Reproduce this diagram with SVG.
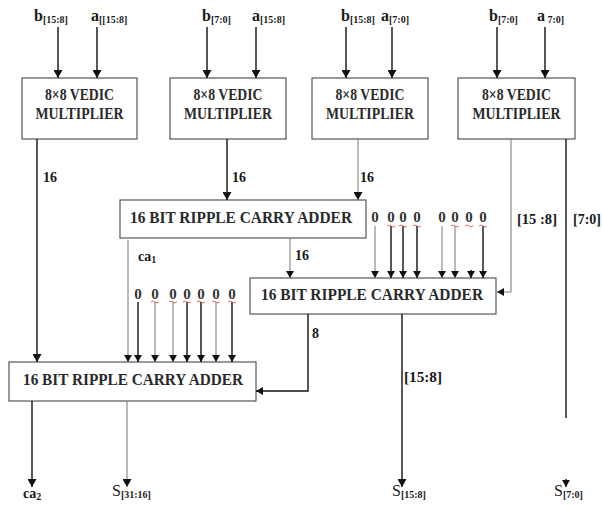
<svg xmlns="http://www.w3.org/2000/svg" width="602" height="508" viewBox="0 0 602 508">
<defs>
<marker id="ah" viewBox="0 0 8 9" refX="8" refY="4.5" markerWidth="8" markerHeight="9" markerUnits="userSpaceOnUse" orient="auto">
<path d="M0,0 L8,4.5 L0,9 z" fill="#111"/>
</marker>
<marker id="ahs" viewBox="0 0 8 9" refX="8" refY="4.5" markerWidth="7" markerHeight="8" markerUnits="userSpaceOnUse" orient="auto">
<path d="M0,0 L8,4.5 L0,9 z" fill="#111"/>
</marker>
</defs>
<style>
.box{fill:#fff;stroke:#555;stroke-width:1.2}
.bt{font-family:"Liberation Serif",serif;font-weight:bold;font-size:16px;fill:#2a2a2a;text-anchor:middle}
.lb{font-family:"Liberation Serif",serif;font-weight:bold;font-size:14px;fill:#1a1a1a}
.top{font-size:16px}
.sub{font-size:10px}
.z{font-family:"Liberation Serif",serif;font-weight:bold;font-size:15px;fill:#333;text-anchor:middle}
.k{stroke:#111;stroke-width:1.4;fill:none}
.g{stroke:#777;stroke-width:1;fill:none}
.sq{stroke:#d04040;stroke-width:0.8;fill:none}
.sl{font-family:"Liberation Serif",serif;font-size:16px;fill:#1a1a1a}
</style>
<rect width="602" height="508" fill="#fff"/>

<g id="mult1">
<rect class="box" x="22" y="78" width="115" height="61"/>
<text class="bt" x="79.5" y="100" textLength="69" lengthAdjust="spacingAndGlyphs">8×8 VEDIC</text>
<text class="bt" x="79.5" y="119" textLength="88" lengthAdjust="spacingAndGlyphs">MULTIPLIER</text>
</g>
<g id="mult2">
<rect class="box" x="170" y="78" width="116" height="61"/>
<text class="bt" x="228" y="100" textLength="69" lengthAdjust="spacingAndGlyphs">8×8 VEDIC</text>
<text class="bt" x="228" y="119" textLength="88" lengthAdjust="spacingAndGlyphs">MULTIPLIER</text>
</g>
<g id="mult3">
<rect class="box" x="312" y="78" width="116" height="61"/>
<text class="bt" x="370" y="100" textLength="69" lengthAdjust="spacingAndGlyphs">8×8 VEDIC</text>
<text class="bt" x="370" y="119" textLength="88" lengthAdjust="spacingAndGlyphs">MULTIPLIER</text>
</g>
<g id="mult4">
<rect class="box" x="458" y="78" width="117" height="61"/>
<text class="bt" x="516.5" y="100" textLength="69" lengthAdjust="spacingAndGlyphs">8×8 VEDIC</text>
<text class="bt" x="516.5" y="119" textLength="88" lengthAdjust="spacingAndGlyphs">MULTIPLIER</text>
</g>

<g id="adder1">
<rect class="box" x="120" y="200" width="246" height="38"/>
<text class="bt" x="241" y="223" textLength="222" lengthAdjust="spacingAndGlyphs">16 BIT RIPPLE CARRY ADDER</text>
</g>
<g id="adder2">
<rect class="box" x="250" y="278" width="246" height="36"/>
<text class="bt" x="372" y="300" textLength="222" lengthAdjust="spacingAndGlyphs">16 BIT RIPPLE CARRY ADDER</text>
</g>
<g id="adder3">
<rect class="box" x="9" y="362" width="247" height="39"/>
<text class="bt" x="133" y="385" textLength="220" lengthAdjust="spacingAndGlyphs">16 BIT RIPPLE CARRY ADDER</text>
</g>

<g id="connectors">
<path class="k" d="M58,27 V78" marker-end="url(#ah)"/>
<path class="k" d="M97,27 V78" marker-end="url(#ah)"/>
<path class="k" d="M207,27 V78" marker-end="url(#ah)"/>
<path class="k" d="M256,27 V78" marker-end="url(#ah)"/>
<path class="k" d="M346,27 V78" marker-end="url(#ah)"/>
<path class="k" d="M392,27 V78" marker-end="url(#ah)"/>
<path class="k" d="M497,27 V78" marker-end="url(#ah)"/>
<path class="k" d="M545,27 V78" marker-end="url(#ah)"/>

<path class="k" d="M37,139 V362" marker-end="url(#ah)"/>
<path class="k" d="M227,139 V200" marker-end="url(#ah)"/>
<path class="g" d="M358,139 V200" marker-end="url(#ah)"/>
<path class="g" d="M511,139 V292 H497" marker-end="url(#ahs)"/>
<path class="k" d="M566,139 V418"/>
<path class="k" d="M566,479 V487" marker-end="url(#ahs)"/>

<path class="g" d="M128,240 V362" marker-end="url(#ahs)"/>
<path class="g" d="M290,238 V278" marker-end="url(#ahs)"/>

<path class="g" d="M375,226 V278" marker-end="url(#ahs)"/>
<path class="k" d="M391,226 V278" marker-end="url(#ahs)"/>
<path class="k" d="M403,226 V278" marker-end="url(#ahs)"/>
<path class="k" d="M417,226 V278" marker-end="url(#ahs)"/>
<path class="g" d="M442,226 V278" marker-end="url(#ahs)"/>
<path class="g" d="M455,226 V278" marker-end="url(#ahs)"/>
<path class="k" d="M471,270 V278" marker-end="url(#ahs)"/>
<path class="k" d="M483,226 V278" marker-end="url(#ahs)"/>

<path class="k" d="M138,302 V362" marker-end="url(#ahs)"/>
<path class="g" d="M155,302 V362" marker-end="url(#ahs)"/>
<path class="g" d="M173,302 V362" marker-end="url(#ahs)"/>
<path class="k" d="M187,302 V362" marker-end="url(#ahs)"/>
<path class="k" d="M201,302 V362" marker-end="url(#ahs)"/>
<path class="g" d="M216,302 V362" marker-end="url(#ahs)"/>
<path class="k" d="M232,302 V362" marker-end="url(#ahs)"/>

<path class="k" d="M308,314 V391 H256" marker-end="url(#ahs)"/>
<path class="k" d="M402,314 V487" marker-end="url(#ah)"/>
<path class="k" d="M32,401 V487" marker-end="url(#ah)"/>
<path class="g" d="M127,401 V487" marker-end="url(#ah)"/>
</g>

<g id="labels">
<text class="lb top" x="34" y="21">b<tspan class="sub" dy="2">[15:8]</tspan></text>
<text class="lb top" x="91" y="21">a<tspan class="sub" dy="2">[[15:8]</tspan></text>
<text class="lb top" x="202" y="21">b<tspan class="sub" dy="2">[7:0]</tspan></text>
<text class="lb top" x="252" y="21">a<tspan class="sub" dy="2">[15:8]</tspan></text>
<text class="lb top" x="341" y="21">b<tspan class="sub" dy="2">[15:8]</tspan></text>
<text class="lb top" x="381" y="21">a<tspan class="sub" dy="2">[7:0]</tspan></text>
<text class="lb top" x="489" y="21">b<tspan class="sub" dy="2">[7:0]</tspan></text>
<text class="lb top" x="537" y="21">a<tspan class="sub" dy="2"> 7:0]</tspan></text>

<text class="lb" x="43" y="182">16</text>
<text class="lb" x="232" y="182">16</text>
<text class="lb" x="360" y="182">16</text>
<text class="lb" x="517" y="224" font-size="15" textLength="40" lengthAdjust="spacingAndGlyphs">[15 :8]</text>
<text class="lb" x="573" y="224" font-size="15" textLength="28" lengthAdjust="spacingAndGlyphs">[7:0]</text>
<text class="lb" x="138" y="261">ca<tspan class="sub" dy="2">1</tspan></text>
<text class="lb" x="295" y="260">16</text>
<text class="lb" x="312" y="338">8</text>
<text class="lb" x="404" y="382" font-size="15" textLength="38" lengthAdjust="spacingAndGlyphs">[15:8]</text>

<text class="z" x="375" y="222">0</text>
<text class="z" x="391" y="222">0</text>
<text class="z" x="403" y="222">0</text>
<text class="z" x="417" y="222">0</text>
<text class="z" x="442" y="222">0</text>
<text class="z" x="455" y="222">0</text>
<text class="z" x="469" y="222">0</text>
<text class="z" x="483" y="222">0</text>

<text class="z" x="138" y="299">0</text>
<text class="z" x="155" y="299">0</text>
<text class="z" x="173" y="299">0</text>
<text class="z" x="187" y="299">0</text>
<text class="z" x="201" y="299">0</text>
<text class="z" x="216" y="299">0</text>
<text class="z" x="232" y="299">0</text>

<path class="sq" d="M387,226 q2,-2 4,0 t4,0 M399,226 q2,-2 4,0 t4,0 M413,226 q2,-2 4,0 t4,0 M451,226 q2,-2 4,0 t4,0 M465,226 q2,-2 4,0 t4,0 M479,226 q2,-2 4,0 t4,0"/>
<path class="sq" d="M151,302 q2,-2 4,0 t4,0 M169,302 q2,-2 4,0 t4,0 M183,302 q2,-2 4,0 t4,0 M197,302 q2,-2 4,0 t4,0 M212,302 q2,-2 4,0 t4,0 M228,302 q2,-2 4,0 t4,0"/>

<text class="lb" x="23" y="498">ca<tspan class="sub" dy="2">2</tspan></text>
<text class="sl" x="112" y="496">S<tspan class="lb sub" dy="2">[31:16]</tspan></text>
<text class="sl" x="392" y="496">S<tspan class="lb sub" dy="2">[15:8]</tspan></text>
<text class="sl" x="554" y="496">S<tspan class="lb sub" dy="2">[7:0]</tspan></text>
</g>
</svg>
